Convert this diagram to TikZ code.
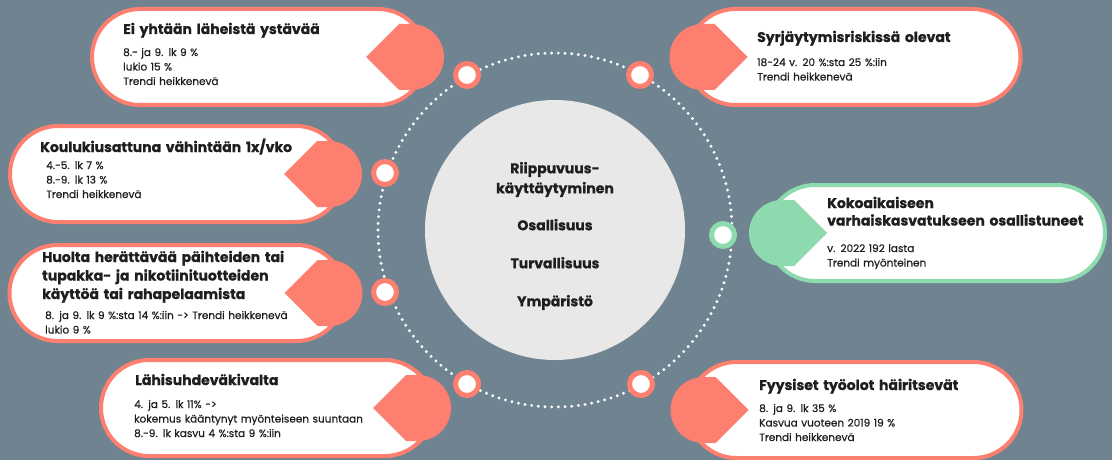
\documentclass[tikz,border=0pt]{standalone}
\usepackage{fontspec}
\setmainfont{Poppins}[BoldFeatures={FakeBold=0.8}]
\newfontfamily\bodyfont{Poppins}[FakeBold=0.5]
\usetikzlibrary{shapes.misc,calc}
\definecolor{slate}{HTML}{708391}
\definecolor{salmon}{HTML}{FD7F70}
\definecolor{mint}{HTML}{8DDAAE}
\definecolor{pale}{HTML}{E8E8E8}
\definecolor{ink}{HTML}{1E1E1E}
\tikzset{
	pill/.style={rounded rectangle,draw=#1,line width=4pt,fill=white,minimum width=334pt,minimum height=96pt,inner sep=0pt},
	ring/.style={circle,draw=#1,line width=5pt,fill=white,minimum size=23pt,inner sep=0pt},
	head/.style={anchor=base west,text width=330pt,align=left,inner sep=0pt,text=ink,font=\bfseries\fontsize{14}{18.5}\selectfont},
	info/.style={anchor=base west,text width=330pt,align=left,inner sep=0pt,text=ink,font=\bodyfont\fontsize{10.5}{14.5}\selectfont}
}
\begin{document}
\begin{tikzpicture}[x=1pt,y=-1pt]
	\fill[slate] (0,0) rectangle (1112,460);
	\useasboundingbox (0,0) rectangle (1112,460);
	% centre and dotted ring
	\node[circle,fill=pale,minimum size=260pt] (core) at (555,230) {};
	\draw[white,line width=3.2pt,dash pattern=on 0pt off 6.7pt,line cap=round] (core.center) circle[radius=177];
	\foreach \n/\x/\y/\c in {d1/467/75/salmon,d2/640/75/salmon,d3/385/173/salmon,d4/385/292/salmon,d5/467/384/salmon,d6/641/384/salmon,d7/723/235/mint}{
	\node[ring=\c] (\n) at (\x,\y) {};
	}
	\node[align=center,text=ink,font=\bfseries\fontsize{14}{20}\selectfont] (focus) at (555,236) {Riippuvuus-\\käyttäytyminen\\[17pt]Osallisuus\\[18pt]Turvallisuus\\[18pt]Ympäristö};
	% boxes with their tags
	\foreach \n/\x/\y/\w/\a/\s/\c in {P1/259/57/334/east/1/salmon,P2/177/174/334/east/1/salmon,P3/177/293/335/east/1/salmon,P4/267/408/332/east/1/salmon,P5/854/57/333/west/-1/salmon,P6/936/233/338/west/-1/mint,P7/855/410/333/west/-1/salmon}{
	\node[pill=\c,minimum width=\w pt] (\n) at (\x,\y) {};
	\path ([xshift={-17*\s}]\n.\a) coordinate (\n c);
	\fill[\c] ($(\n c)+({-45*\s},0)$) -- ++({33*\s},-33) -- ++({12*\s},0) arc[start angle=-90,end angle={-90+180*\s},radius=33] -- ++({-12*\s},0) -- cycle;
	}
	% texts
	\node[head] (T1) at (123,34) {Ei yhtään läheistä ystävää};
	\node[info] (B1) at (123,56) {8.- ja 9. lk 9 \%\\lukio 15 \%\\Trendi heikkenevä};
	\node[head] (T2) at (40,152) {Koulukiusattuna vähintään 1x/vko};
	\node[info] (B2) at (46,169) {4.-5. lk 7 \%\\8.-9. lk 13 \%\\Trendi heikkenevä};
	\node[head] (T3) at (42,262) {Huolta herättävää päihteiden tai\\tupakka- ja nikotiinituotteiden\\käyttöä tai rahapelaamista};
	\node[info] (B3) at (45,319) {8. ja 9. lk 9 \%:sta 14 \%:iin -> Trendi heikkenevä\\lukio 9 \%};
	\node[head] (T4) at (135,385) {Lähisuhdeväkivalta};
	\node[info] (B4) at (134,408) {4. ja 5. lk 11\% ->\\kokemus kääntynyt myönteiseen suuntaan\\8.-9. lk kasvu 4 \%:sta 9 \%:iin};
	\node[head] (T5) at (757,42) {Syrjäytymisriskissä olevat};
	\node[info] (B5) at (757,66) {18-24 v. 20 \%:sta 25 \%:iin\\Trendi heikkenevä};
	\node[head,font=\bfseries\fontsize{14}{17.5}\selectfont] (T6) at (827,208) {Kokoaikaiseen\\varhaiskasvatukseen osallistuneet};
	\node[info] (B6) at (827,252) {v. 2022 192 lasta\\Trendi myönteinen};
	\node[head] (T7) at (759,390) {Fyysiset työolot häiritsevät};
	\node[info] (B7) at (759,412) {8. ja 9. lk 35 \%\\Kasvua vuoteen 2019 19 \%\\Trendi heikkenevä};
\end{tikzpicture}
\end{document}
